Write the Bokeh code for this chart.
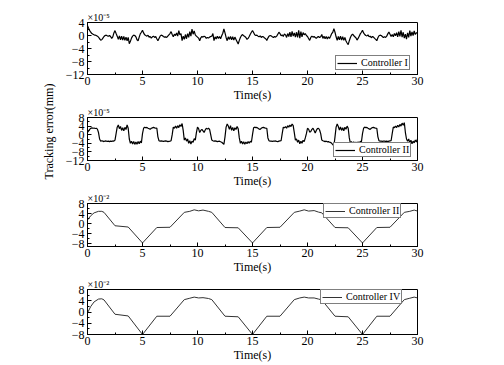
import math
from bokeh.plotting import figure
from bokeh.models import Range1d, SingleIntervalTicker, Label, Legend, LegendItem
from bokeh.layouts import row, column
from bokeh.embed import file_html
from bokeh.resources import INLINE

# ---------------- data ----------------
# sample times (s) for the two fine-grained error records
time_s = [round(0.1 * i, 1) for i in range(301)]

# Controller I tracking error, units of 1e-5 mm
err_ctrl1 = [
    3.0, 2.2, 1.5, 1.0, 0.6, 0.4, 0.2, 0.1, 0.0, -0.2,
    -0.5, -1.0, -1.4, -1.3, -0.8, -0.3, 0.0, 0.1, -0.1, -0.2,
    0.0, -0.3, -0.9, -0.4, 0.8, 1.5, 0.6, -0.2, -1.2, -0.1,
    -1.3, -0.2, -1.4, -0.3, -1.5, -0.5, -1.6, -0.6, -2.5, -1.8,
    -0.8, -0.2, 0.1, 0.0, -0.4, -1.3, -1.6, -0.5, 0.5, 1.0,
    1.6, 0.8, 0.2, 0.0, -0.2, 0.1, -0.5, -0.3, -0.8, -0.4,
    -0.2, -0.6, -0.3, -1.0, -1.6, -0.9, -0.2, 0.1, 0.0, -0.3,
    -0.5, -0.4, -0.6, -0.2, 0.2, 0.6, 1.2, 0.3, -0.4, 0.4,
    0.0, 0.8, -0.2, 1.5, 0.2, 0.6, -1.6, -0.2, -1.2, 0.3,
    -1.0, 0.6, -0.6, 1.2, -0.2, 2.0, 0.4, 1.4, 0.2, -0.2,
    -0.5, -0.8, -1.6, -0.7, -0.3, -0.5, -0.2, -0.4, -0.9, -0.6,
    -0.8, -0.5, -0.3, -0.2, 0.6, -1.6, -0.4, -1.1, -0.2, -0.9,
    -0.3, -1.0, -0.1, 0.7, 2.0, 0.8, -0.6, -1.6, -0.4, -1.2,
    -0.3, -1.3, -0.4, -1.4, -0.5, -1.2, -1.9, -2.6, -1.5, -0.6,
    0.0, 0.3, -0.1, -0.3, -0.6, -1.2, -0.9, -0.3, 0.4, 1.0,
    1.5, 0.9, 0.2, 0.0, 0.1, -0.2, -0.4, -0.1, -0.6, -0.3,
    -0.4, -0.8, -1.0, -1.5, -0.8, -0.2, 0.0, -0.1, -0.4, -0.6,
    -0.3, -0.5, -0.2, 0.4, 1.0, 0.6, -0.1, 0.2, -0.3, 0.5,
    0.2, -0.6, 0.6, -0.3, 1.0, -0.4, 1.3, -0.2, 0.8, -0.5,
    1.0, -0.6, 1.6, -0.8, 1.2, -0.4, 0.9, 0.2, 0.6, 0.0,
    -0.3, -0.9, -1.5, -0.6, -0.2, -0.5, -0.3, -0.6, -0.9, -0.5,
    -0.3, -0.6, -0.4, 0.3, -0.9, -0.2, -1.0, -0.3, -1.1, -0.4,
    -0.9, -0.2, 0.6, 1.0, 2.1, 1.0, -0.4, -1.5, -0.3, -1.3,
    -0.2, -1.4, -0.4, -1.5, -0.6, -1.7, -2.3, -2.8, -1.6, -0.6,
    0.1, 0.4, 0.0, -0.4, -0.7, -1.4, -0.9, -0.2, 0.5, 1.0,
    1.6, 0.8, 0.3, 0.0, -0.1, 0.2, -0.4, -0.2, -0.7, -0.3,
    -0.5, -0.9, -1.2, -1.6, -0.7, -0.1, 0.1, 0.0, -0.3, -0.6,
    -0.4, -0.6, -0.2, 0.5, 1.1, 0.4, -0.3, 0.3, -0.4, 0.6,
    -0.1, 0.9, -0.4, 1.2, -0.3, 1.6, -0.5, 1.0, -0.8, 0.4,
    -1.1, 0.8, -0.6, 1.5, -0.2, 1.1, 0.0, 1.4, 0.3, 0.8,
    1.0,
]

# Controller II tracking error, units of 1e-5 mm
err_ctrl2 = [
    1.0, 1.8, 2.5, 3.0, 3.2, 3.0, 3.1, 2.9, 3.0, 2.6,
    1.0, -2.0, -3.0, -2.8, -3.0, -3.2, -2.9, -3.0, -3.1, -3.0,
    -3.2, -3.0, -3.1, -2.9, -3.0, -2.5, 0.5, 3.5, 4.5, 2.8,
    3.8, 2.0, 3.2, 1.8, 3.4, 2.4, 4.6, 3.0, -2.0, -4.0,
    -3.0, -4.3, -3.2, -4.5, -3.4, -4.4, -3.2, -4.2, -3.0, -3.8,
    0.5, 3.0, 3.5, 3.2, 3.4, 3.0, 2.8, 2.5, 3.0, 3.2,
    3.4, 3.2, 3.0, 3.1, -1.0, -2.8, -3.0, -2.9, -3.0, -3.1,
    -3.0, -2.9, -3.0, -3.2, -3.1, -3.0, -2.8, 0.0, 3.5, 3.0,
    4.0, 3.0, 4.2, 3.3, 4.6, 3.8, 5.2, 2.0, -2.5, -1.5,
    -3.0, -2.0, -4.0, -2.8, -4.4, -3.0, -3.5, -1.8, -2.5, 1.0,
    3.5, 2.8, 1.0, 2.0, 2.5, 1.8, 1.0, 2.2, 3.0, 2.6,
    3.0, 2.5, 0.0, -2.5, -2.8, -3.0, -2.9, -3.0, -3.2, -3.1,
    -3.0, -3.3, -3.5, -4.0, -4.5, -1.0, 3.5, 5.0, 4.0, 2.5,
    4.2, 2.0, 3.4, 1.8, 3.2, 2.4, 3.8, 2.8, -1.5, -4.0,
    -3.0, -4.3, -3.3, -4.4, -3.4, -4.2, -3.2, -4.0, -3.0, -3.5,
    0.0, 3.2, 3.5, 3.3, 3.4, 3.0, 2.6, 2.5, 3.0, 3.3,
    3.4, 3.2, 3.0, 3.0, -1.5, -2.8, -3.0, -3.0, -3.1, -3.0,
    -3.0, -2.9, -3.1, -3.2, -3.0, -2.9, -2.8, 0.5, 3.5, 3.2,
    3.8, 3.0, 4.2, 3.5, 4.5, 3.8, 5.0, 4.2, 1.0, -2.5,
    -2.0, -3.5, -2.5, -4.2, -3.0, -4.0, -2.6, -3.2, -1.5, 0.5,
    3.0, 2.6, 1.2, 1.5, 2.5, 3.0, 2.0, 0.8, 2.0, 2.8,
    3.0, 2.2, 0.5, -2.5, -2.8, -3.0, -3.2, -3.0, -3.3, -3.2,
    -3.5, -3.6, -4.0, -4.6, -5.2, -1.0, 3.5, 5.0, 3.8, 2.2,
    3.6, 2.0, 3.2, 1.8, 3.5, 2.5, 4.0, 3.0, -1.5, -4.0,
    -3.2, -4.3, -3.3, -4.2, -3.4, -4.3, -3.3, -4.0, -3.1, -3.4,
    0.5, 3.0, 3.5, 3.3, 3.4, 3.0, 2.7, 2.5, 3.0, 3.3,
    3.4, 3.2, 3.0, 3.0, -1.0, -2.8, -3.0, -3.0, -3.1, -3.0,
    -3.0, -3.1, -3.0, -3.2, -3.0, -2.9, -2.8, 0.5, 3.5, 3.3,
    4.0, 3.3, 4.4, 3.6, 4.8, 4.0, 5.4, 4.4, 5.6, 1.0,
    -2.0, -3.0, -2.0, -3.8, -2.6, -4.2, -3.0, -3.8, -2.5, -3.4,
    -2.0,
]

# Controller II (third panel) tracking error, units of 1e-2 mm
t_ctrl3 = [0, 0.3, 0.6, 1.0, 1.3, 1.5, 2.5, 3.7, 5.0, 6.3, 7.5,
           8.8, 9.3, 9.7, 10.1, 10.5, 11.0, 11.3, 12.5, 13.7, 15.0, 16.3, 17.5,
           18.8, 19.3, 19.7, 20.1, 20.6, 21.0, 21.3, 22.5, 23.7, 25.0, 26.3, 27.5,
           28.8, 29.3, 29.7, 30.0]
err_ctrl3 = [1.5, 3.2, 4.3, 4.9, 4.9, 4.5, -0.8, -1.3, -7.6, -1.5, -1.4,
             4.5, 4.9, 5.5, 5.1, 5.4, 4.9, 4.5, -1.5, -1.6, -7.6, -1.5, -1.4,
             4.5, 5.0, 5.5, 5.0, 5.2, 4.6, 4.3, -1.5, -1.6, -7.6, -1.5, -1.4,
             4.5, 4.9, 5.4, 5.0]

# Controller IV tracking error, units of 1e-2 mm
t_ctrl4 = [0, 0.3, 0.6, 1.0, 1.3, 1.5, 2.5, 3.7, 5.0, 6.3, 7.5,
           8.8, 9.3, 9.7, 10.1, 10.5, 11.0, 11.3, 12.5, 13.7, 15.0, 16.3, 17.5,
           18.8, 19.3, 19.7, 20.1, 20.6, 21.0, 21.3, 22.5, 23.7, 25.0, 26.3, 27.5,
           28.8, 29.3, 29.7, 30.0]
err_ctrl4 = [-0.3, 2.0, 3.6, 4.6, 4.7, 4.3, -0.8, -1.4, -8.0, -1.5, -1.5,
             4.4, 4.9, 5.3, 5.0, 5.1, 4.8, 4.4, -1.5, -1.7, -8.0, -1.5, -1.5,
             4.4, 5.0, 5.3, 5.0, 5.0, 4.6, 4.3, -1.5, -1.7, -8.0, -1.5, -1.5,
             4.4, 4.9, 5.3, 5.0]

legend_labels = ["Controller I", "Controller II", "Controller II", "Controller IV"]
scale_texts = ["×10⁻⁵", "×10⁻⁵", "×10⁻²", "×10⁻²"]
y_limits = [(-12, 4), (-12, 8), (-9, 8), (-8, 8)]
x_label = "Time(s)"
y_label = "Tracking error(mm)"

# ---------------- styling ----------------
FONT = "Liberation Serif"


def make_panel(t, v, ylim, scale_text, label, h, top, bottom, leg_xy, color, lw):
    p = figure(frame_width=330, height=h,
               x_range=Range1d(0, 30), y_range=Range1d(*ylim),
               output_backend="svg", toolbar_location=None,
               min_border_left=29, min_border_right=79,
               min_border_top=top, min_border_bottom=bottom)
    p.xgrid.visible = False
    p.ygrid.visible = False
    p.outline_line_color = "black"
    p.outline_line_alpha = 1.0
    p.background_fill_color = "white"
    p.border_fill_color = "white"
    r = p.line(t, v, line_color=color, line_width=lw)

    # scale factor printed above the top-left corner of the frame
    p.title.text = scale_text
    p.title.align = "left"
    p.title.offset = 0
    p.title.standoff = 0
    p.title.text_font = FONT
    p.title.text_font_size = "10px"
    p.title.text_font_style = "normal"
    p.title.text_line_height = 1.0
    p.title.text_color = "black"

    for ax in (p.xaxis[0], p.yaxis[0]):
        ax.axis_line_color = "black"
        ax.major_tick_line_color = "black"
        ax.minor_tick_line_color = "black"
        ax.major_tick_in = 4
        ax.major_tick_out = 0
        ax.minor_tick_in = 2
        ax.minor_tick_out = 0
        ax.major_label_text_font = FONT
        ax.major_label_text_font_size = "12px"
        ax.major_label_text_font_style = "normal"
        ax.major_label_text_line_height = 1.0
        ax.major_label_text_color = "black"
    p.xaxis[0].major_label_standoff = 2
    p.yaxis[0].major_label_standoff = 3
    p.xaxis[0].ticker = SingleIntervalTicker(interval=5, num_minor_ticks=2)
    p.yaxis[0].ticker = SingleIntervalTicker(interval=4, num_minor_ticks=2)
    p.xaxis[0].axis_label = x_label
    p.xaxis[0].axis_label_text_font = FONT
    p.xaxis[0].axis_label_text_font_size = "12px"
    p.xaxis[0].axis_label_text_font_style = "normal"
    p.xaxis[0].axis_label_text_line_height = 1.0
    p.xaxis[0].axis_label_text_color = "black"
    p.xaxis[0].axis_label_standoff = 0

    legend = Legend(items=[LegendItem(label=label, renderers=[r])],
                    location=leg_xy, orientation="vertical",
                    border_line_color="black", border_line_width=1,
                    background_fill_color="white", background_fill_alpha=1,
                    padding=1, margin=0, spacing=0,
                    glyph_width=20, glyph_height=8, label_height=8,
                    label_standoff=4,
                    label_text_font=FONT, label_text_font_size="10px",
                    label_text_font_style="normal",
                    label_text_line_height=1.0,
                    label_text_color="black")
    p.add_layout(legend)
    return p


p1 = make_panel(time_s, err_ctrl1, y_limits[0], scale_texts[0], legend_labels[0],
                104, 22, 28, (248, 4), "black", 1.2)
p2 = make_panel(time_s, err_ctrl2, y_limits[1], scale_texts[1], legend_labels[1],
                86, 12, 28, (246, 3), "black", 1.2)
p3 = make_panel(t_ctrl3, err_ctrl3, y_limits[2], scale_texts[2], legend_labels[2],
                86, 12, 28, (236, 28), "#333333", 1)
p4 = make_panel(t_ctrl4, err_ctrl4, y_limits[3], scale_texts[3], legend_labels[3],
                88, 12, 28, (233, 30), "#333333", 1)

# left strip carrying the shared y-axis title
STRIP_H = 364
lab = figure(width=58, height=STRIP_H, x_range=Range1d(0, 58), y_range=Range1d(0, STRIP_H),
             x_axis_type=None, y_axis_type=None, output_backend="svg",
             toolbar_location=None, min_border=0)
lab.xgrid.visible = False
lab.ygrid.visible = False
lab.outline_line_color = None
lab.add_layout(Label(x=48, y=STRIP_H - 131, text=y_label, angle=math.pi / 2,
                     text_align="center", text_baseline="middle",
                     text_font=FONT, text_font_size="12px", text_color="black"))

layout = row(lab, column(p1, p2, p3, p4))

open("out.html", "w").write(file_html(layout, INLINE))
